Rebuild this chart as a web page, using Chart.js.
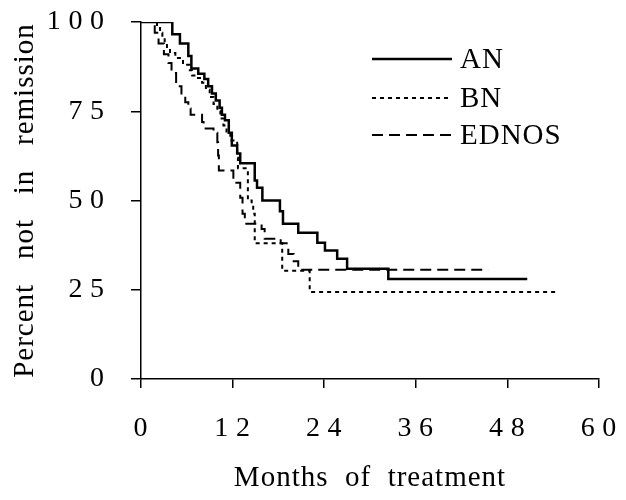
<!DOCTYPE html>
<html lang="en">
<head>
    <meta charset="UTF-8">
    <title>Percent not in remission</title>
    <script src="https://cdn.jsdelivr.net/npm/chart.js"></script>
    <style>
        body { margin: 0; padding: 0; background: #fff; }
        canvas { display: block; }
    </style>
</head>
<body>
    <canvas id="kmChart" width="626" height="500"></canvas>

    <script>
        // Data (months, percent not in remission)
        const groupNames = ['AN', 'BN', 'EDNOS'];

        const anMonths  = [0, 4.1, 5.1, 6.2, 6.6, 7.5, 8.3, 8.8, 9.3, 9.8, 10.3, 10.6, 11.0, 11.5, 11.9, 12.6, 13.0, 14.9, 15.2, 15.9, 18.2, 18.6, 20.6, 23.1, 24.1, 25.7, 27.0, 32.4, 50.6];
        const anPercent = [100, 96.6, 94, 90.5, 87, 85.5, 84, 82, 80, 78, 76, 74, 72.5, 69, 65.4, 63.2, 60.4, 55.6, 53.6, 50, 47, 43.5, 41, 38.2, 36, 33.7, 30.9, 28, 28];

        const bnMonths  = [0, 2.1, 2.5, 2.8, 3.1, 3.4, 3.8, 4.5, 5.5, 6.4, 6.7, 7.3, 8.0, 8.5, 9.0, 9.5, 10.0, 10.4, 10.8, 11.2, 11.7, 12.6, 12.7, 13.9, 14.0, 14.5, 14.7, 14.9, 18.5, 22.1, 54.5];
        const bnPercent = [100, 98.3, 97, 95.5, 94, 92.7, 91.3, 89.9, 88, 86.5, 85, 84.3, 83, 81, 79, 77, 75, 73, 71, 69, 66.8, 62, 59, 58.4, 50, 48.6, 46.3, 38, 30.3, 24.4, 24.4];

        const edMonths  = [0, 1.8, 2.3, 3.0, 3.6, 4.0, 4.6, 5.3, 5.8, 6.2, 6.5, 8.0, 8.2, 9.5, 10.0, 10.1, 10.2, 12.1, 13.0, 13.3, 13.6, 15.8, 16.2, 18.3, 19.3, 20.0, 20.6, 45.5];
        const edPercent = [100, 97, 94, 91, 88.5, 85.7, 82, 79.5, 77.5, 75.8, 74, 72, 70.2, 69, 66.3, 62.6, 58.4, 55, 50.8, 46.3, 43.5, 42, 39.3, 38, 35, 33, 30.6, 30.6];

        const xTicks = [0, 12, 24, 36, 48, 60];
        const yTicks = [0, 25, 50, 75, 100];

        const serif = '"Liberation Serif", "Times New Roman", serif';

        function toPoints(months, pct) {
            return months.map((m, i) => ({ x: m, y: pct[i] }));
        }

        // spaced digits like the typeset original: "1 0 0"
        function spaced(v) {
            return String(v).split('').join('\u2009');
        }

        const spacingPlugin = {
            id: 'spacing',
            beforeLayout(chart) { chart.ctx.letterSpacing = '1px'; },
            beforeDraw(chart) { chart.ctx.letterSpacing = '1px'; }
        };

        // legend: line sample + label, top right
        const legendPlugin = {
            id: 'lineLegend',
            afterDraw(chart) {
                const ctx = chart.ctx;
                const rows = [59, 98, 135];
                ctx.save();
                ctx.font = '29px ' + serif;
                ctx.textBaseline = 'middle';
                ctx.fillStyle = '#000';
                chart.data.datasets.forEach((ds, i) => {
                    const y = rows[i];
                    ctx.beginPath();
                    ctx.lineWidth = ds.borderWidth;
                    ctx.strokeStyle = '#000';
                    ctx.setLineDash(ds.borderDash || []);
                    ctx.moveTo(372, y);
                    ctx.lineTo(452, y);
                    ctx.stroke();
                    ctx.setLineDash([]);
                    ctx.fillText(ds.label, 460, y + 1);
                });
                ctx.restore();
            }
        };

        const ctx = document.getElementById('kmChart').getContext('2d');

        new Chart(ctx, {
            type: 'line',
            data: {
                datasets: [
                    {
                        label: groupNames[0],
                        data: toPoints(anMonths, anPercent),
                        borderColor: '#000',
                        borderWidth: 2.5,
                        stepped: true,
                        pointRadius: 0,
                        fill: false
                    },
                    {
                        label: groupNames[1],
                        data: toPoints(bnMonths, bnPercent),
                        borderColor: '#000',
                        borderWidth: 2,
                        borderDash: [4, 4],
                        stepped: true,
                        pointRadius: 0,
                        fill: false
                    },
                    {
                        label: groupNames[2],
                        data: toPoints(edMonths, edPercent),
                        borderColor: '#000',
                        borderWidth: 2,
                        borderDash: [11, 6],
                        stepped: true,
                        pointRadius: 0,
                        fill: false
                    }
                ]
            },
            options: {
                responsive: false,
                animation: false,
                devicePixelRatio: 1,
                layout: { padding: { top: 22, right: 27, bottom: 0, left: 0 } },
                plugins: {
                    legend: { display: false },
                    tooltip: { enabled: false }
                },
                scales: {
                    x: {
                        type: 'linear',
                        min: 0,
                        max: 60,
                        afterBuildTicks(scale) { scale.ticks = xTicks.map(v => ({ value: v })); },
                        afterFit(scale) { scale.height = 121; scale.paddingLeft = 0; scale.paddingRight = 0; },
                        ticks: {
                            color: '#000',
                            font: { family: serif, size: 28 },
                            padding: 24,
                            maxRotation: 0,
                            callback: v => spaced(v)
                        },
                        grid: { drawOnChartArea: false, drawTicks: true, tickLength: 9, color: '#000', lineWidth: 1.5 },
                        border: { display: true, color: '#000', width: 1.5 },
                        title: {
                            display: true,
                            text: 'Months  of  treatment',
                            color: '#000',
                            font: { family: serif, size: 29 },
                            padding: { top: 0, bottom: 4 }
                        }
                    },
                    y: {
                        min: 0,
                        max: 100,
                        afterBuildTicks(scale) { scale.ticks = yTicks.map(v => ({ value: v })); },
                        afterFit(scale) { scale.width = 141; scale.paddingTop = 0; scale.paddingBottom = 0; },
                        ticks: {
                            color: '#000',
                            font: { family: serif, size: 28 },
                            padding: 26,
                            callback: v => spaced(v)
                        },
                        grid: { drawOnChartArea: false, drawTicks: true, tickLength: 10, color: '#000', lineWidth: 1.5 },
                        border: { display: true, color: '#000', width: 1.5 },
                        title: {
                            display: true,
                            text: 'Percent   not   in   remission',
                            color: '#000',
                            font: { family: serif, size: 29 },
                            padding: { top: 8, bottom: 0 }
                        }
                    }
                }
            },
            plugins: [spacingPlugin, legendPlugin]
        });
    </script>
</body>
</html>
